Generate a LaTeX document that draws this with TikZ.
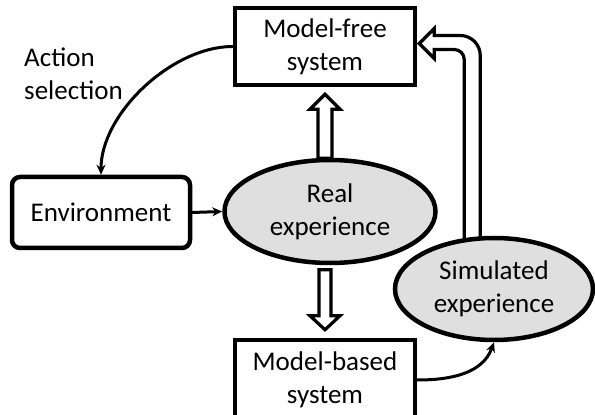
\documentclass[tikz,border=0pt]{standalone}
\usepackage{fontspec}
\setmainfont{Carlito}
\usetikzlibrary{shapes.geometric,arrows.meta,calc,backgrounds}
\tikzset{
  sysbox/.style={draw, line width=4.5pt, minimum width=180pt, minimum height=77pt,
    align=center, inner sep=0pt},
  envbox/.style={sysbox, rounded corners=8pt, minimum width=178pt, minimum height=71pt},
  expnode/.style={draw, ellipse, fill=gray!25, line width=4.5pt, align=center, inner sep=0pt},
  hollow/.style={draw, line width=3.2pt, fill=white, line join=miter},
  flow/.style={line width=3pt, -{Stealth[length=10pt,width=9pt]}},
}
\begin{document}
\begin{tikzpicture}[x=1pt, y=1pt, line cap=round,
    every node/.style={font=\fontsize{27}{33}\selectfont}]
\useasboundingbox (0,0) rectangle (595,415);
    % boxes and ellipses
\node[sysbox] (free) at (325,368.5) {Model-free\\system};
\node[envbox] (env) at (101,202.5) {Environment};
\node[expnode, minimum width=211pt, minimum height=103pt] (real) at (330,203.5) {Real\\experience};
\node[sysbox, minimum height=80pt] (based) at (325,35) {Model-based\\system};
\node[expnode, minimum width=198pt, minimum height=102pt] (sim) at (494,126) {Simulated\\experience};
\node[align=left, anchor=west, inner sep=0pt] (act) at (24,341) {Action\\selection};
    % thin arrows
\draw[flow] (free.west) to[out=180, in=90, looseness=0.85] (env.north);
\draw[flow] (env.east) -- (real.west);
\draw[flow] (based.east) to[out=0, in=-110] (sim.south);
    % hollow arrows
\draw[hollow] ($(free.south)+(-7,-71)$) -- ++(0,49) -- ++(-8,0) -- ++(15,15)
    -- ++(15,-15) -- ++(-8,0) -- ++(0,-49) -- cycle;
\draw[hollow] ($(based.north)+(-6,68)$) -- ++(0,-46) -- ++(-9,0) -- ++(15,-14)
    -- ++(15,14) -- ++(-9,0) -- ++(0,46) -- cycle;
\begin{scope}[on background layer]
\draw[hollow] ($(free.east)+(2,3)$) -- ++(15,15) -- ++(0,-7) -- ++(26,0)
    arc[start angle=90, end angle=0, radius=20] -- ++(0,-190) -- ++(-16,0)
    -- ++(0,186) arc[start angle=0, end angle=90, radius=10] -- ++(-20,0)
    -- ++(0,-9) -- cycle;
\end{scope}
\end{tikzpicture}
\end{document}
